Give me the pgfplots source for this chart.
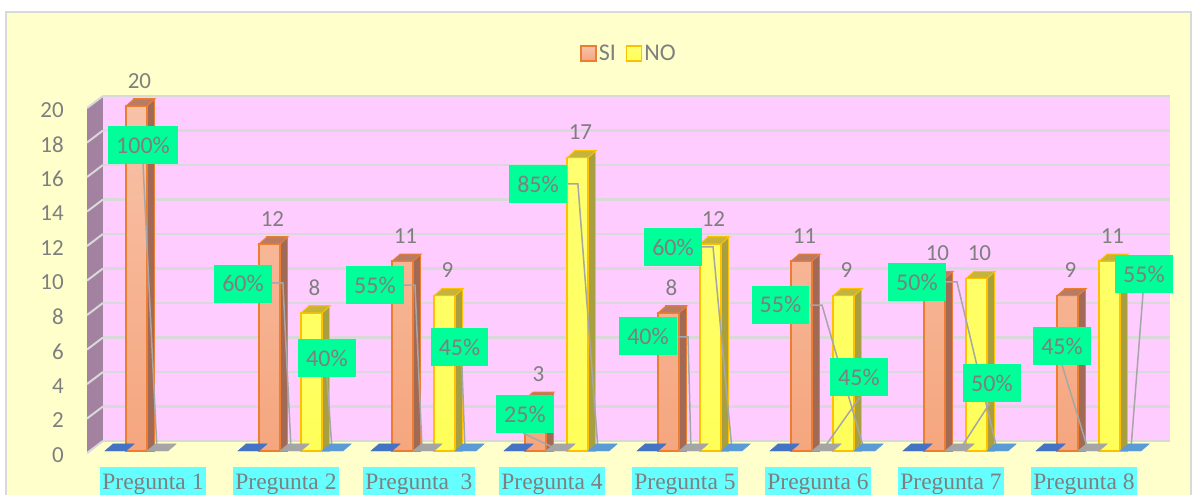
\documentclass[border=0pt]{standalone}
\usepackage{pgfplots}
\pgfplotsset{compat=1.18}
\usepackage{pgfplotstable}
\usepackage{fontspec}
\setmainfont{Carlito}
\newfontfamily\seriffont{Liberation Serif}

\definecolor{bgyellow}{HTML}{FFFFCC}
\definecolor{bordergray}{HTML}{D9D9D9}
\definecolor{wallpink}{HTML}{FFCCFF}
\definecolor{gridc}{HTML}{D9D9D9}
\definecolor{leftwall}{HTML}{A381A1}
\definecolor{txtgray}{HTML}{7F7F7F}
\definecolor{labgreen}{HTML}{00FF99}
\definecolor{cyanbox}{HTML}{66FFFF}
\definecolor{leadc}{HTML}{A6A6A6}
\definecolor{siA}{HTML}{F8C2A8}
\definecolor{siB}{HTML}{F5A67E}
\definecolor{siLine}{HTML}{ED7D31}
\definecolor{siSide}{HTML}{A06A56}
\definecolor{siTop}{HTML}{B97C62}
\definecolor{noA}{HTML}{FFFF70}
\definecolor{noB}{HTML}{FFFF5A}
\definecolor{noLine}{HTML}{FFC000}
\definecolor{noSide}{HTML}{A8A040}
\definecolor{noTop}{HTML}{C4B43C}
\definecolor{flblue}{HTML}{4472C4}
\definecolor{flgray}{HTML}{A5A5A5}
\definecolor{fllblue}{HTML}{5B9BD5}

\pgfdeclareplotmark{para}{%
  \pgfpathmoveto{\pgfqpoint{-10.5bp}{0bp}}%
  \pgfpathlineto{\pgfqpoint{10.5bp}{0bp}}%
  \pgfpathlineto{\pgfqpoint{18.5bp}{7bp}}%
  \pgfpathlineto{\pgfqpoint{-2.5bp}{7bp}}%
  \pgfpathclose
  \pgfusepathqfillstroke}

\pgfplotstableread{
x si
0 20
1 12
2 11
3 3
4 8
5 11
6 10
7 9
}\tblSI
\pgfplotstableread{
x no
1 8
2 9
3 17
4 12
5 9
6 10
7 11
}\tblNO
\pgfplotstableread{
x y p
-0.075 17.74 100
0.677 9.71 60
1.308 5.39 40
1.669 9.62 55
2.305 6.03 45
2.797 2.12 25
2.895 15.48 85
3.722 6.67 40
3.910 11.83 60
4.718 8.49 55
5.308 4.29 45
5.744 9.80 50
6.308 3.94 50
6.835 6.09 45
7.451 10.26 55
}\tblPct
\pgfplotstableread{
x y
-0.075 16.64
0.030 0.10
nan nan
0.895 9.74
0.977 9.74
1.038 0.10
nan nan
1.308 4.29
1.346 0.10
nan nan
1.887 9.62
1.970 9.62
2.023 0.10
nan nan
2.323 4.93
2.346 0.10
nan nan
2.782 1.04
3.038 0.10
nan nan
3.120 15.48
3.195 15.48
3.346 0.10
nan nan
3.947 6.61
4.023 6.61
4.045 0.10
nan nan
4.128 11.83
4.211 11.83
4.353 0.10
nan nan
4.940 8.46
5.030 8.46
5.346 0.10
nan nan
5.316 3.13
5.038 0.10
nan nan
5.962 9.80
6.045 9.80
6.346 0.10
nan nan
6.293 2.78
6.068 0.10
nan nan
6.835 4.99
7.030 0.10
nan nan
7.444 9.16
7.353 0.10
}\tblLead

\newcommand{\bigf}{\fontsize{23bp}{27bp}\selectfont}

\begin{document}
\begin{tikzpicture}
\path[use as bounding box] (0bp,0bp) rectangle (1194bp,495bp);
\fill[white] (0bp,0bp) rectangle (1194bp,495bp);
\filldraw[fill=bgyellow, draw=bordergray, line width=1.5bp] (6bp,-5bp) rectangle (1191bp,483bp);
\begin{axis}[
  anchor=south west, at={(87bp,44bp)},
  x=133bp, y=17.25bp,
  xmin=-0.496, xmax=7.647, ymin=0, ymax=21,
  clip=false,
  axis line style={draw=none},
  major tick length=0pt,
  ytick={0,2,...,20},
  xtick={0,...,7},
  xticklabels={Pregunta 1,Pregunta 2,Pregunta\ \ 3,Pregunta 4,Pregunta 5,Pregunta 6,Pregunta 7,Pregunta 8},
  /pgf/number format/assume math mode=true,
  yticklabel style={anchor=east, inner sep=0pt, xshift=-23bp, yshift=-4bp, text=txtgray, font=\bigf},
  xticklabel style={anchor=north, yshift=-16bp, font=\seriffont\fontsize{23.5bp}{27bp}\selectfont, text=txtgray, fill=cyanbox,
     inner xsep=2.5bp, inner ysep=0bp, text height=22bp, text depth=8bp},
  legend style={at={(0.5005,1.0973)}, anchor=center, draw=none, fill=none, legend columns=2,
     font=\fontsize{24bp}{28bp}\selectfont, text=txtgray,
     /tikz/every even column/.append style={column sep=8bp}},
  legend cell align=left,
  mylegend/.style={legend image code/.code={\draw[##1, line width=1.5bp] (0bp,-7.5bp) rectangle (15bp,7.5bp);}},
]
% back wall and left wall
\fill[wallpink] (axis cs:-0.376,0.58) rectangle (axis cs:7.647,20.58);
\fill[leftwall] (axis cs:-0.496,-0.12) -- (axis cs:-0.376,0.58) -- (axis cs:-0.376,20.58) -- (axis cs:-0.496,19.88) -- cycle;
\draw[gridc, line width=2.5bp]
  (axis cs:-0.376,0.58) -- (axis cs:7.647,0.58)
  (axis cs:-0.376,2.58) -- (axis cs:7.647,2.58)
  (axis cs:-0.376,4.58) -- (axis cs:7.647,4.58)
  (axis cs:-0.376,6.58) -- (axis cs:7.647,6.58)
  (axis cs:-0.376,8.58) -- (axis cs:7.647,8.58)
  (axis cs:-0.376,10.58) -- (axis cs:7.647,10.58)
  (axis cs:-0.376,12.58) -- (axis cs:7.647,12.58)
  (axis cs:-0.376,14.58) -- (axis cs:7.647,14.58)
  (axis cs:-0.376,16.58) -- (axis cs:7.647,16.58)
  (axis cs:-0.376,18.58) -- (axis cs:7.647,18.58)
  (axis cs:-0.376,20.58) -- (axis cs:7.647,20.58);
\draw[gridc, line width=2bp]
  (axis cs:-0.496,-0.12) -- (axis cs:-0.376,0.58)
  (axis cs:-0.496,1.88) -- (axis cs:-0.376,2.58)
  (axis cs:-0.496,3.88) -- (axis cs:-0.376,4.58)
  (axis cs:-0.496,5.88) -- (axis cs:-0.376,6.58)
  (axis cs:-0.496,7.88) -- (axis cs:-0.376,8.58)
  (axis cs:-0.496,9.88) -- (axis cs:-0.376,10.58)
  (axis cs:-0.496,11.88) -- (axis cs:-0.376,12.58)
  (axis cs:-0.496,13.88) -- (axis cs:-0.376,14.58)
  (axis cs:-0.496,15.88) -- (axis cs:-0.376,16.58)
  (axis cs:-0.496,17.88) -- (axis cs:-0.376,18.58)
  (axis cs:-0.496,19.88) -- (axis cs:-0.376,20.58);
% floor squares
\addplot[only marks, mark=para, mark options={fill=flblue, draw=flblue, line width=0.5bp}, forget plot]
  table[x expr=\thisrow{x}-0.282, y expr=0] {\tblSI};
\addplot[only marks, mark=para, mark options={fill=flgray, draw=flgray, line width=0.5bp}, forget plot]
  table[x expr=\thisrow{x}+0.034, y expr=0] {\tblSI};
\addplot[only marks, mark=para, mark options={fill=fllblue, draw=fllblue, line width=0.5bp}, forget plot]
  table[x expr=\thisrow{x}+0.350, y expr=0] {\tblNO};
% SI bars
\addplot[ybar, bar width=21bp, bar shift=-8.5bp, fill=siSide, draw=siLine, line width=1bp, forget plot]
  table[x=x, y expr=\thisrow{si}+0.406] {\tblSI};
\addplot[ybar, bar width=21bp, bar shift=-16.5bp, top color=siA, bottom color=siB, draw=siLine, line width=1.5bp,
  nodes near coords={\pgfmathprintnumber{\pgfplotspointmeta}},
  every node near coord/.append style={font=\bigf, text=txtgray, inner sep=0pt, yshift=17bp, xshift=-13.5bp},
  mylegend]
  table[x=x, y=si] {\tblSI};
\addlegendentry{SI}
\addplot[only marks, mark=para, mark options={fill=siTop, draw=siLine, line width=1bp}, forget plot]
  table[x expr=\thisrow{x}-0.124, y=si] {\tblSI};
% NO bars
\addplot[ybar, bar width=21bp, bar shift=33.5bp, fill=noSide, draw=noLine, line width=1bp, forget plot]
  table[x=x, y expr=\thisrow{no}+0.406] {\tblNO};
\addplot[ybar, bar width=21bp, bar shift=25.5bp, top color=noA, bottom color=noB, draw=noLine, line width=1.5bp,
  nodes near coords={\pgfmathprintnumber{\pgfplotspointmeta}},
  every node near coord/.append style={font=\bigf, text=txtgray, inner sep=0pt, yshift=17bp, xshift=28.5bp},
  mylegend]
  table[x=x, y=no] {\tblNO};
\addlegendentry{NO}
\addplot[only marks, mark=para, mark options={fill=noTop, draw=noLine, line width=1bp}, forget plot]
  table[x expr=\thisrow{x}+0.192, y=no] {\tblNO};
% percentage labels
\addplot[only marks, mark=*, mark size=0.01pt, mark options={draw=none, fill=none}, forget plot,
  point meta=explicit,
  nodes near coords={\pgfmathprintnumber{\pgfplotspointmeta}\%},
  nodes near coords align={center},
  every node near coord/.style={anchor=center, fill=labgreen, text=txtgray, font=\fontsize{24bp}{28bp}\selectfont,
     inner xsep=8bp, inner ysep=0bp, minimum height=38bp}]
  table[x=x, y=y, meta=p] {\tblPct};
% leader lines
\addplot[leadc, line width=1.5bp, unbounded coords=jump, forget plot] table[x=x, y=y] {\tblLead};
\end{axis}
\end{tikzpicture}
\end{document}
